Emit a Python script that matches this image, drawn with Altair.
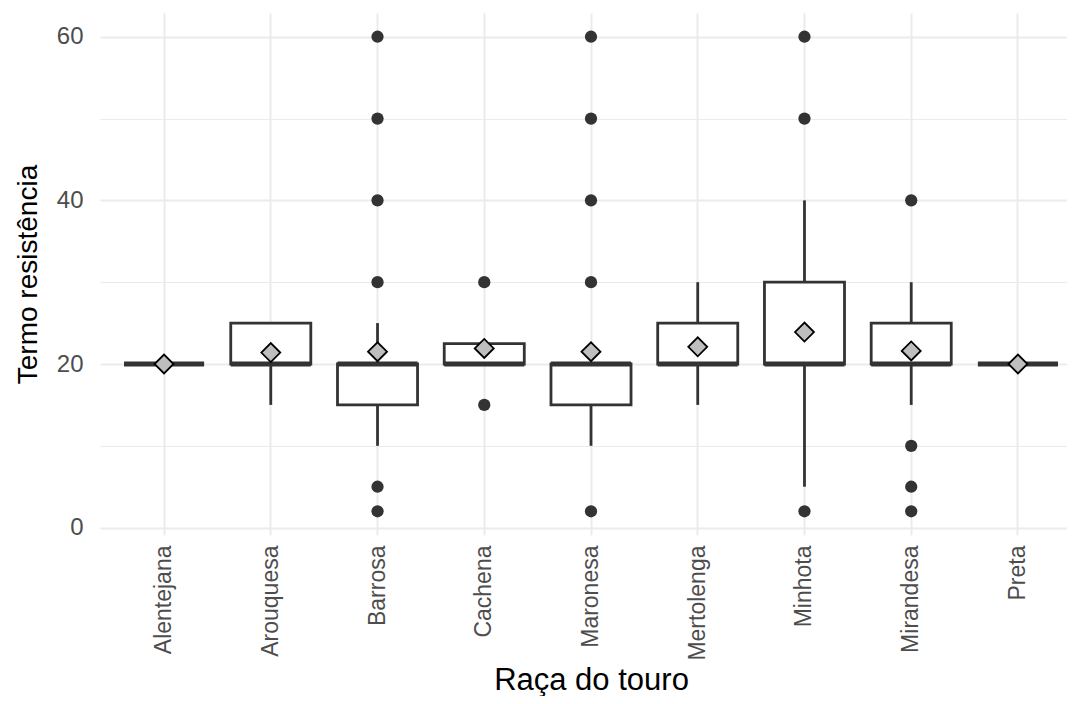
import altair as alt
import pandas as pd

# ---- data ----
breeds = ["Alentejana", "Arouquesa", "Barrosa", "Cachena", "Maronesa",
          "Mertolenga", "Minhota", "Mirandesa", "Preta"]
q1 = [20, 20, 15, 20, 15, 20, 20, 20, 20]
medians = [20, 20, 20, 20, 20, 20, 20, 20, 20]
q3 = [20, 25, 20, 22.5, 20, 25, 30, 25, 20]
whisker_low = [20, 15, 10, 20, 10, 15, 5, 15, 20]
whisker_high = [20, 25, 25, 22.5, 20, 30, 40, 30, 20]
means = [20.0, 21.4, 21.5, 21.9, 21.5, 22.1, 23.9, 21.6, 20.0]

outlier_breed = ["Barrosa", "Barrosa", "Barrosa", "Barrosa", "Barrosa", "Barrosa",
                 "Cachena", "Cachena",
                 "Maronesa", "Maronesa", "Maronesa", "Maronesa", "Maronesa",
                 "Minhota", "Minhota", "Minhota",
                 "Mirandesa", "Mirandesa", "Mirandesa", "Mirandesa"]
outlier_value = [60, 50, 40, 30, 5, 2,
                 30, 15,
                 60, 50, 40, 30, 2,
                 60, 50, 2,
                 40, 10, 5, 2]

y_grid_values = [0, 10, 20, 30, 40, 50, 60]

stats = pd.DataFrame({
    "breed": breeds, "q1": q1, "median": medians, "q3": q3,
    "lo": whisker_low, "hi": whisker_high, "mean": means,
})
outliers = pd.DataFrame({"breed": outlier_breed, "value": outlier_value})

FONT = "Liberation Sans"
DARK = "#333333"


def xenc():
    return alt.X(
        "breed:N",
        sort=breeds,
        title="Raça do touro",
        scale=alt.Scale(domain=breeds, range=[0, 982], paddingInner=0, paddingOuter=0.1),
        axis=alt.Axis(
            labelAngle=-90, labelFontSize=23, labelColor="#4D4D4D", labelFont=FONT,
            labelPadding=10, ticks=False, tickSize=0, domain=False,
            grid=True, gridColor="#EBEBEB", gridWidth=2, bandPosition=0.5,
            titleFontSize=31, titleFont=FONT, titleColor="#000000",
            titleFontWeight="normal", titlePadding=5, titleX=491,
        ),
    )


def yenc(field):
    return alt.Y(
        field,
        title="Termo resistência",
        scale=alt.Scale(domain=[-0.9, 62.9], nice=False, zero=False),
        axis=alt.Axis(
            values=y_grid_values,
            labelExpr="datum.value % 20 === 0 ? datum.label : ''",
            labelFontSize=24, labelColor="#4D4D4D", labelFont=FONT,
            labelPadding=17, ticks=False, tickSize=0, domain=False,
            grid=True, gridColor="#EBEBEB",
            gridWidth={"condition": {"test": "datum.value % 20 === 0", "value": 2},
                       "value": 1.2},
            titleFontSize=28, titleFont=FONT, titleColor="#000000",
            titleFontWeight="normal", titlePadding=14,
        ),
    )


base = alt.Chart(stats)

whisk_low = base.mark_rule(color=DARK, strokeWidth=2.8).encode(
    x=xenc(), y=yenc("lo:Q"), y2="q1:Q")
whisk_high = base.mark_rule(color=DARK, strokeWidth=2.8).encode(
    x=xenc(), y=yenc("q3:Q"), y2="hi:Q")

box = base.mark_bar(
    width=alt.RelativeBandSize(0.75), fill="white", stroke=DARK, strokeWidth=2.8
).encode(x=xenc(), y=yenc("q1:Q"), y2="q3:Q")

median_line = base.mark_bar(
    width=alt.RelativeBandSize(0.75), fill="white", fillOpacity=0,
    stroke=DARK, strokeWidth=5
).encode(x=xenc(), y=yenc("median:Q"), y2="median:Q")

outlier_pts = alt.Chart(outliers).mark_circle(
    size=150, color=DARK, opacity=1
).encode(x=xenc(), y=yenc("value:Q"))

mean_pts = base.mark_point(
    shape="diamond", filled=True, fill="#BEBEBE", stroke="#000000",
    strokeWidth=1.8, size=360, opacity=1
).encode(x=xenc(), y=yenc("mean:Q"))

chart = alt.layer(
    whisk_low, whisk_high, box, median_line, outlier_pts, mean_pts
).properties(
    width=967, height=522,
    autosize=alt.AutoSizeParams(type="none"),
    padding={"left": 92, "top": 5, "right": 0, "bottom": 161},
    background="white",
).configure_view(stroke=None)

chart.save("out.html", embed_options={"renderer": "svg", "actions": False})
